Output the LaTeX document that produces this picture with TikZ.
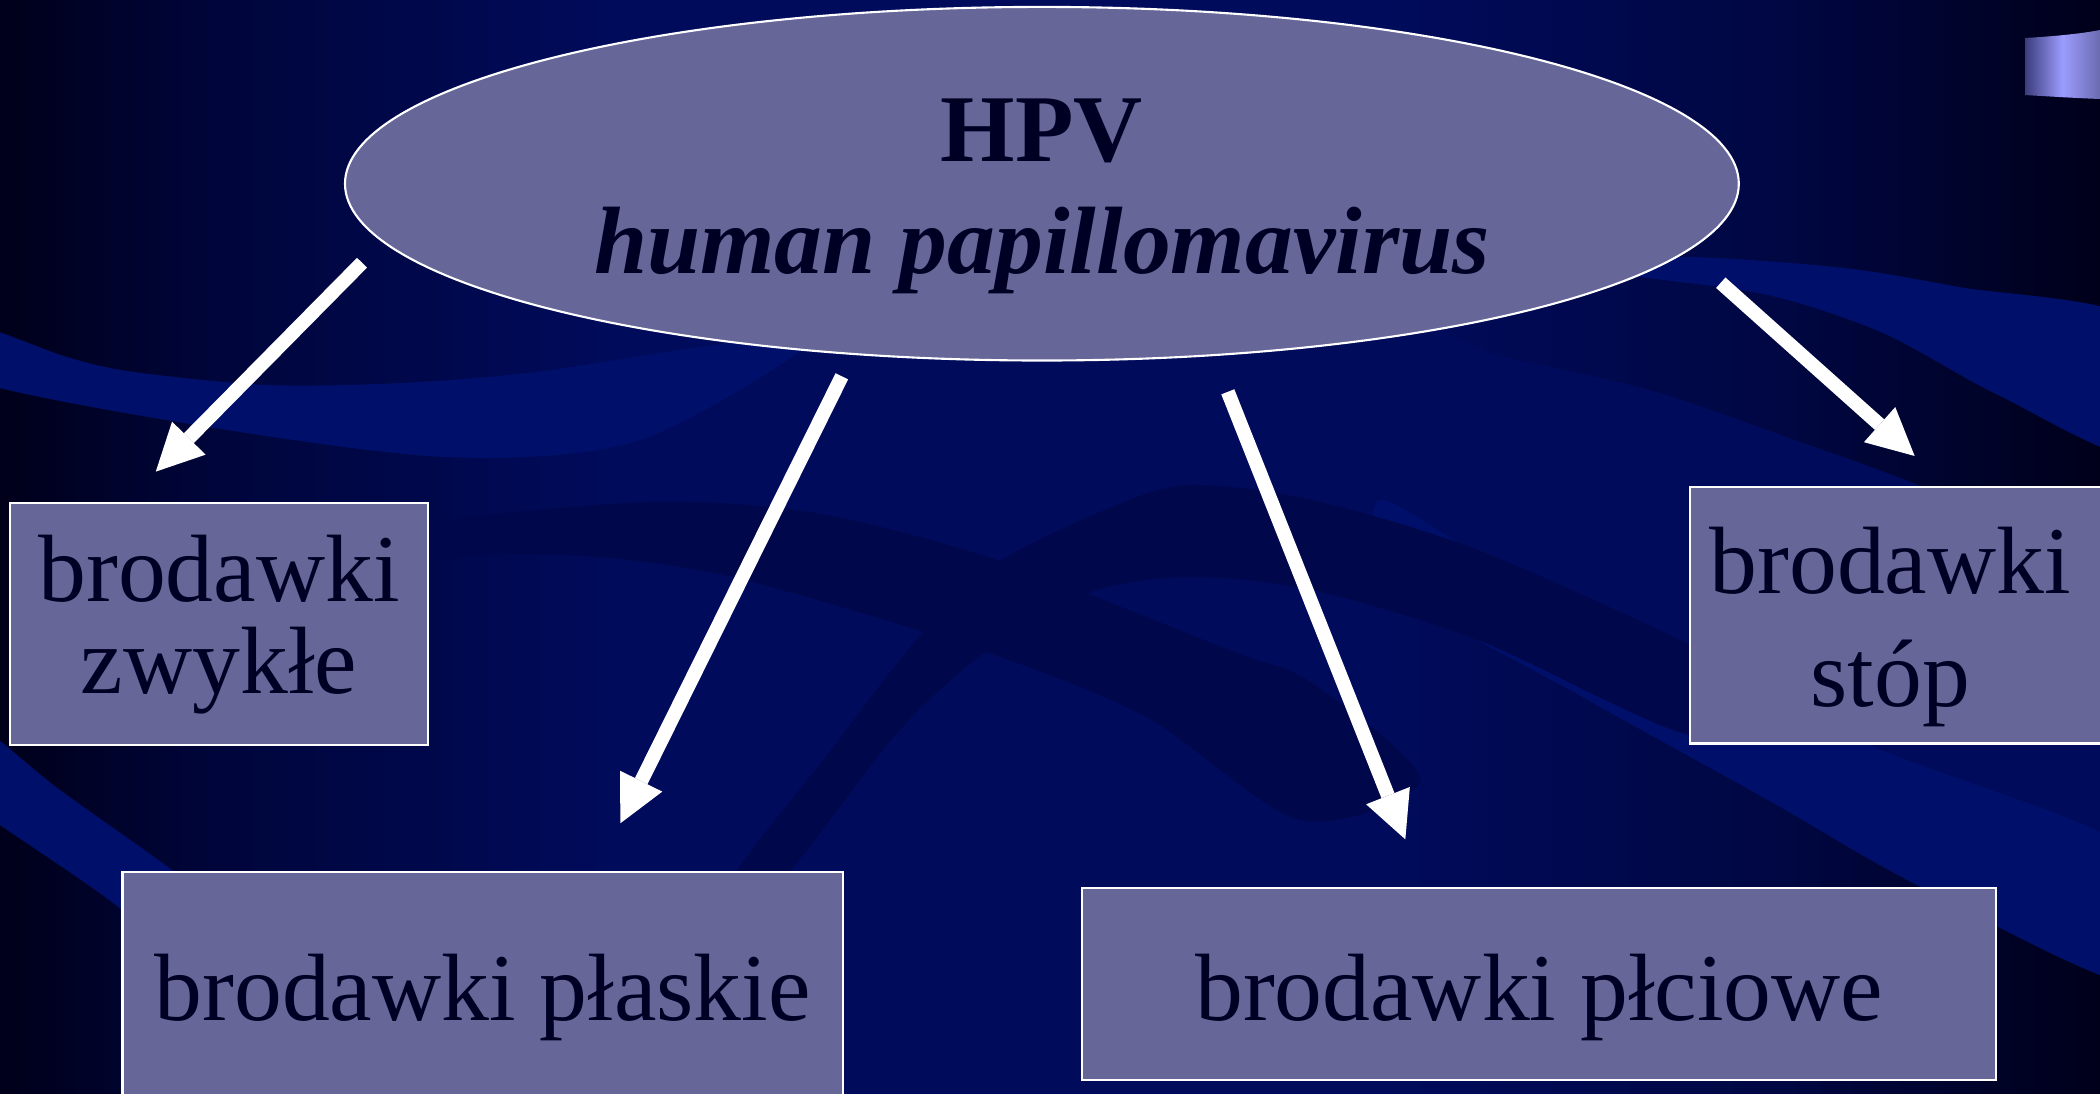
\documentclass[tikz,border=0pt]{standalone}
\usepackage{fontspec}
\setmainfont{Liberation Serif}
\usepackage{xcolor}
\usepackage{tikz}
\usetikzlibrary{arrows.meta,shapes.geometric}

\definecolor{bgedge}{HTML}{00001A}
\definecolor{bgleft}{HTML}{00053A}
\definecolor{bgmid}{HTML}{000B5C}
\definecolor{bgright}{HTML}{000742}
\definecolor{waveup}{HTML}{00106A}
\definecolor{wavemid}{HTML}{000B5C}
\definecolor{wavedn}{HTML}{00074A}
\definecolor{boxfill}{HTML}{666699}
\definecolor{ink}{HTML}{000024}
\definecolor{tabdark}{HTML}{3C3C7C}
\definecolor{tablight}{HTML}{9C9CFF}
\definecolor{tabright}{HTML}{6A6AB0}

\pgfdeclarehorizontalshading{slidebg}{100bp}{color(0bp)=(bgedge); color(25bp)=(bgedge);
  color(30bp)=(bgleft); color(40bp)=(bgmid); color(57.5bp)=(bgmid);
  color(67.5bp)=(bgright); color(75bp)=(bgedge); color(100bp)=(bgedge)}

\begin{document}
\begin{tikzpicture}[x=0.01cm, y=-0.01cm,
  oval/.style={ellipse, draw=white, line width=0.6pt, fill=boxfill, text=ink,
               inner sep=0pt, outer sep=0pt, align=center,
               font=\fontsize{27.2}{31.75}\selectfont\bfseries},
  box/.style={draw=white, line width=0.6pt, fill=boxfill, text=ink, anchor=north west,
              inner sep=0pt, outer sep=0pt, align=center, text depth=0.206cm,
              font=\fontsize{27.2}{26.06}\selectfont},
  fl/.style={draw=white, line width=0.14cm,
             -{Triangle[length=0.47cm, width=0.47cm, line width=0pt]}}]
\useasboundingbox (0,0) rectangle (2100,1093);
\clip (0,0) rectangle (2100,1093);
% slide background
\shade[shading=slidebg] (0,0) rectangle (2100,1093);
\fill[wavemid] plot[smooth cycle] coordinates {(1400,330) (1500,356) (1653,391) (1806,444)
  (1921,486) (2140,575) (2140,860) (1875,747) (1691,651) (1500,567) (1380,500)};
\fill[waveup] plot[smooth cycle] coordinates {(-40,322) (67,357) (134,372) (268,385) (402,383)
  (536,372) (700,347) (820,335) (640,440) (446,457) (178,422) (-40,376)};
\fill[waveup] plot[smooth cycle] coordinates {(-40,715) (60,790) (172,870) (260,940)
  (200,990) (122,910) (0,825) (-40,795)};
\fill[waveup] plot[smooth cycle] coordinates {(1560,262) (1691,257) (1844,268) (1959,287)
  (2140,322) (2140,455) (1998,395) (1883,333) (1768,295) (1634,276)};
\fill[waveup] plot[smooth cycle] coordinates {(1380,500) (1500,567) (1691,651) (1875,747)
  (2140,855) (2140,985) (1921,887) (1768,800) (1588,700) (1400,590)};
\fill[wavedn] plot[smooth cycle] coordinates {(330,530) (400,523) (649,502) (815,513)
  (997,560) (1229,650) (1312,683) (1420,780) (1300,820) (1146,717) (980,650) (732,577)
  (566,555) (400,560) (330,570)};
\fill[wavedn] plot[smooth cycle] coordinates {(732,880) (831,750) (922,633) (997,563)
  (1105,510) (1188,485) (1312,500) (1478,550) (1700,650) (1750,690) (1690,735) (1478,640)
  (1312,590) (1188,577) (1088,593) (984,653) (897,733) (781,880)};
\shade[left color=tabdark, right color=tabright, middle color=tablight]
  (2025,38) .. controls (2060,36) and (2085,33) .. (2100,30) -- (2100,99)
  .. controls (2075,98) and (2050,96.5) .. (2025,95) -- cycle;

\node[oval, minimum width=13.93cm, minimum height=3.534cm, text height=1.998cm,
      text depth=0.206cm] (hpv) at (1041.9,183.7) {HPV\\\textit{human papillomavirus}};
\node[box, minimum width=4.177cm, minimum height=2.417cm, text height=1.589cm]
  (zwykle) at (10,503.3) {brodawki\\zwykłe};
\node[box, minimum width=4.6cm, minimum height=2.56cm, text height=2.034cm,
      font=\fontsize{27.2}{32.27}\selectfont]
  (stop) at (1690,487.3) {\hspace*{-0.6cm}brodawki\\\hspace*{-0.6cm}stóp};
\node[box, minimum width=7.199cm, minimum height=2.523cm, text height=0.649cm]
  (plaskie) at (122.5,871.7) {brodawki płaskie};
\node[box, minimum width=9.134cm, minimum height=1.923cm, text height=0.929cm]
  (plciowe) at (1082.2,887.7) {brodawki płciowe};

\foreach \a/\b/\s/\e in {hpv.185/zwykle.128/0.30cm/0.445cm, hpv.222/plaskie.48/0.25cm/0.54cm,
    hpv.315/plciowe.140/0.395cm/0.52cm, hpv.354/stop.77/0.47cm/0.47cm}
  \draw[fl, shorten <=\s, shorten >=\e] (\a) -- (\b);
\end{tikzpicture}
\end{document}
